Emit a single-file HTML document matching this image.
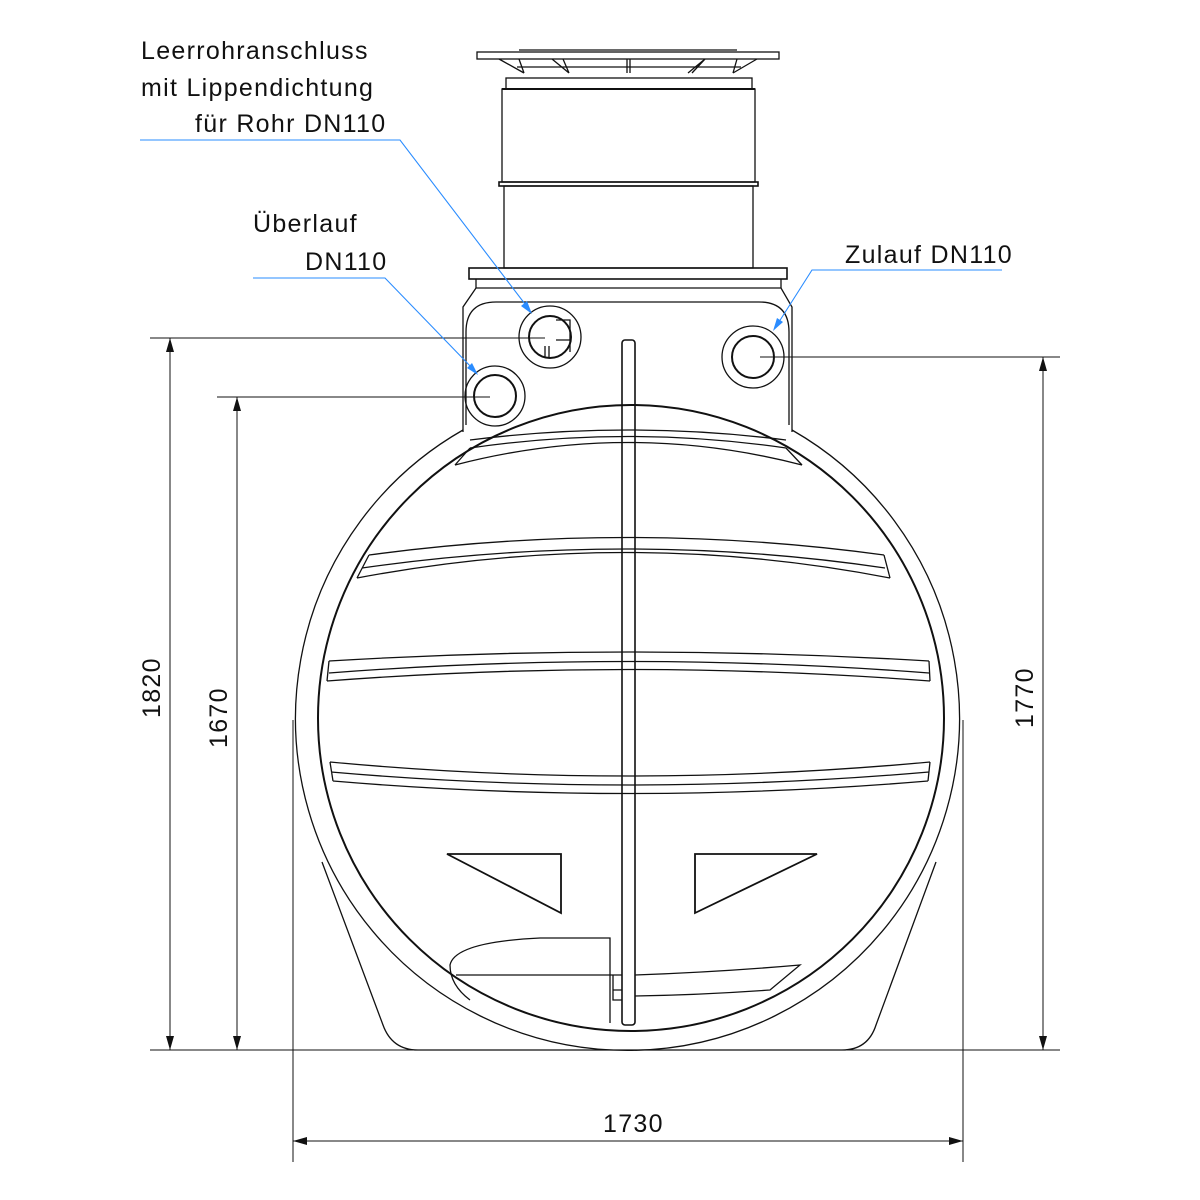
<!DOCTYPE html>
<html><head><meta charset="utf-8"><style>
body{margin:0;background:#fff}
svg{display:block}
text{font-family:"Liberation Sans",sans-serif;font-size:25px;fill:#111;letter-spacing:1.3px}
</style></head><body>
<svg width="1200" height="1200" viewBox="0 0 1200 1200" xmlns="http://www.w3.org/2000/svg">
<g fill="none" stroke="#111" stroke-width="1.3">
<!-- foot -->
<path d="M322,862 L383,1025 Q392,1050 418,1050 L842,1050 Q868,1050 876,1025 L936,862"/>
<!-- outer circle -->
<path d="M463,430 A332,332 0 1 0 792,430" />
<!-- inner circle -->
<circle cx="631" cy="718" r="313" stroke-width="2"/>
<!-- neck -->
<path d="M463,432 L463,307 L476,288 L781,288 L792,307 L792,432"/>
<path d="M466,425 L466,332 Q466,302 496,302 L759,302 Q789,302 789,332 L789,425"/>
<rect x="469" y="268" width="318" height="11" stroke-width="1.6"/>
<line x1="476" y1="279" x2="476" y2="288"/><line x1="781" y1="279" x2="781" y2="288"/>
<!-- shaft -->
<rect x="504" y="186" width="249" height="82"/>
<rect x="499" y="182" width="259" height="4" stroke-width="1.6"/>
<rect x="502" y="89" width="253" height="93"/>
<line x1="502" y1="89" x2="755" y2="89" stroke-width="2"/>
<rect x="506" y="78" width="246" height="11"/>
<rect x="477" y="52" width="302" height="7"/>
<line x1="519" y1="50" x2="737" y2="50"/>
<path d="M499,59 L524,73 M519,59 L524,73 M552,59 L569,73 M563,59 L569,73 M627,59 L627,73 M630,59 L630,73 M688,73 L705,59 M692,73 L705,59 M733,73 L757,59 M733,73 L737,59"/>
<line x1="517" y1="67" x2="741" y2="67"/>
<!-- pipes -->
<circle cx="495" cy="396" r="30"/><circle cx="495" cy="396" r="21" stroke-width="2"/>
<circle cx="550" cy="337" r="31"/><circle cx="550" cy="337" r="21" stroke-width="2"/>
<path d="M556,320 L570,320 L570,352 M545,346 L545,358 M549,346 L549,358 M556,340 L570,340"/>
<circle cx="753" cy="357" r="31"/><circle cx="753" cy="357" r="21" stroke-width="2"/>
<!-- rod -->
<rect x="622" y="340" width="13" height="685" rx="3" stroke-width="1.6"/>
<!-- ribs -->
<path d="M455,465 Q628,420 802,465 M470,448 Q628,425 786,448 M470,440 Q628,420 786,440"/>
<path d="M357,578 Q628,527 890,578 M362,568 Q628,530 885,568 M369,555 Q628,520 884,555"/>
<path d="M327,681 Q628,658 930,681 M329,673 Q628,650 929,673 M329,661 Q628,643 929,661 M327,681 L329,661 M930,681 L929,661"/>
<path d="M330,762 Q628,790 930,762 M331,772 Q628,798 929,772 M333,781 Q628,806 928,781 M330,762 L333,781 M930,762 L928,781"/>
<path d="M455,465 L470,448 M802,465 L786,448 M357,578 L369,555 M890,578 L884,555"/>
<!-- triangles -->
<path d="M447,854 L561,854 L561,913 Z" stroke-width="1.8"/>
<path d="M695,854 L817,854 L695,913 Z" stroke-width="1.8"/>
<!-- bottom details -->
<path d="M610,1023 L610,938 L540,938 Q455,942 450,965 Q450,985 470,1000"/>
<line x1="456" y1="975" x2="622" y2="975"/>
<path d="M635,975 Q720,972 800,965 L770,990 Q700,995 635,996"/>
<path d="M613,975 L613,1000 L622,1000 M613,990 L622,990"/>
<!-- dimensions -->
<g stroke-width="1">
<line x1="150" y1="338" x2="545" y2="338"/>
<line x1="217" y1="397" x2="490" y2="397"/>
<line x1="760" y1="357" x2="1060" y2="357"/>
<line x1="150" y1="1050" x2="1060" y2="1050"/>
<line x1="170" y1="338" x2="170" y2="1050"/>
<line x1="237" y1="397" x2="237" y2="1050"/>
<line x1="1043" y1="357" x2="1043" y2="1050"/>
<line x1="293" y1="720" x2="293" y2="1162"/>
<line x1="963" y1="720" x2="963" y2="1162"/>
<line x1="293" y1="1141" x2="963" y2="1141"/>
</g>
</g>
<g fill="#111">
<path d="M170,338 l-4,14 l8,0Z M170,1050 l-4,-14 l8,0Z M237,397 l-4,14 l8,0Z M237,1050 l-4,-14 l8,0Z M1043,357 l-4,14 l8,0Z M1043,1050 l-4,-14 l8,0Z M293,1141 l14,-4 l0,8Z M963,1141 l-14,-4 l0,8Z"/>
</g>
<!-- blue leaders -->
<g stroke="#2a8cff" stroke-width="1.1" fill="none">
<path d="M140,140 L400,140 L528,308"/>
<path d="M253,278 L385,278 L474,370"/>
<path d="M1002,270 L812,270 L777,325"/>
</g>
<g fill="#2a8cff">
<path d="M532,314 l-11,-8 l6,-5Z"/>
<path d="M478,375 l-11,-7 l5,-5Z"/>
<path d="M773,331 l4,-13 l6,4Z"/>
</g>
<text x="141" y="59">Leerrohranschluss</text>
<text x="141" y="96">mit Lippendichtung</text>
<text x="195" y="132">für Rohr DN110</text>
<text x="253" y="232">Überlauf</text>
<text x="305" y="270">DN110</text>
<text x="845" y="263">Zulauf DN110</text>
<text x="603" y="1132">1730</text>
<text transform="translate(160,718) rotate(-90)">1820</text>
<text transform="translate(227,748) rotate(-90)">1670</text>
<text transform="translate(1033,728) rotate(-90)">1770</text>
</svg>
</body></html>
